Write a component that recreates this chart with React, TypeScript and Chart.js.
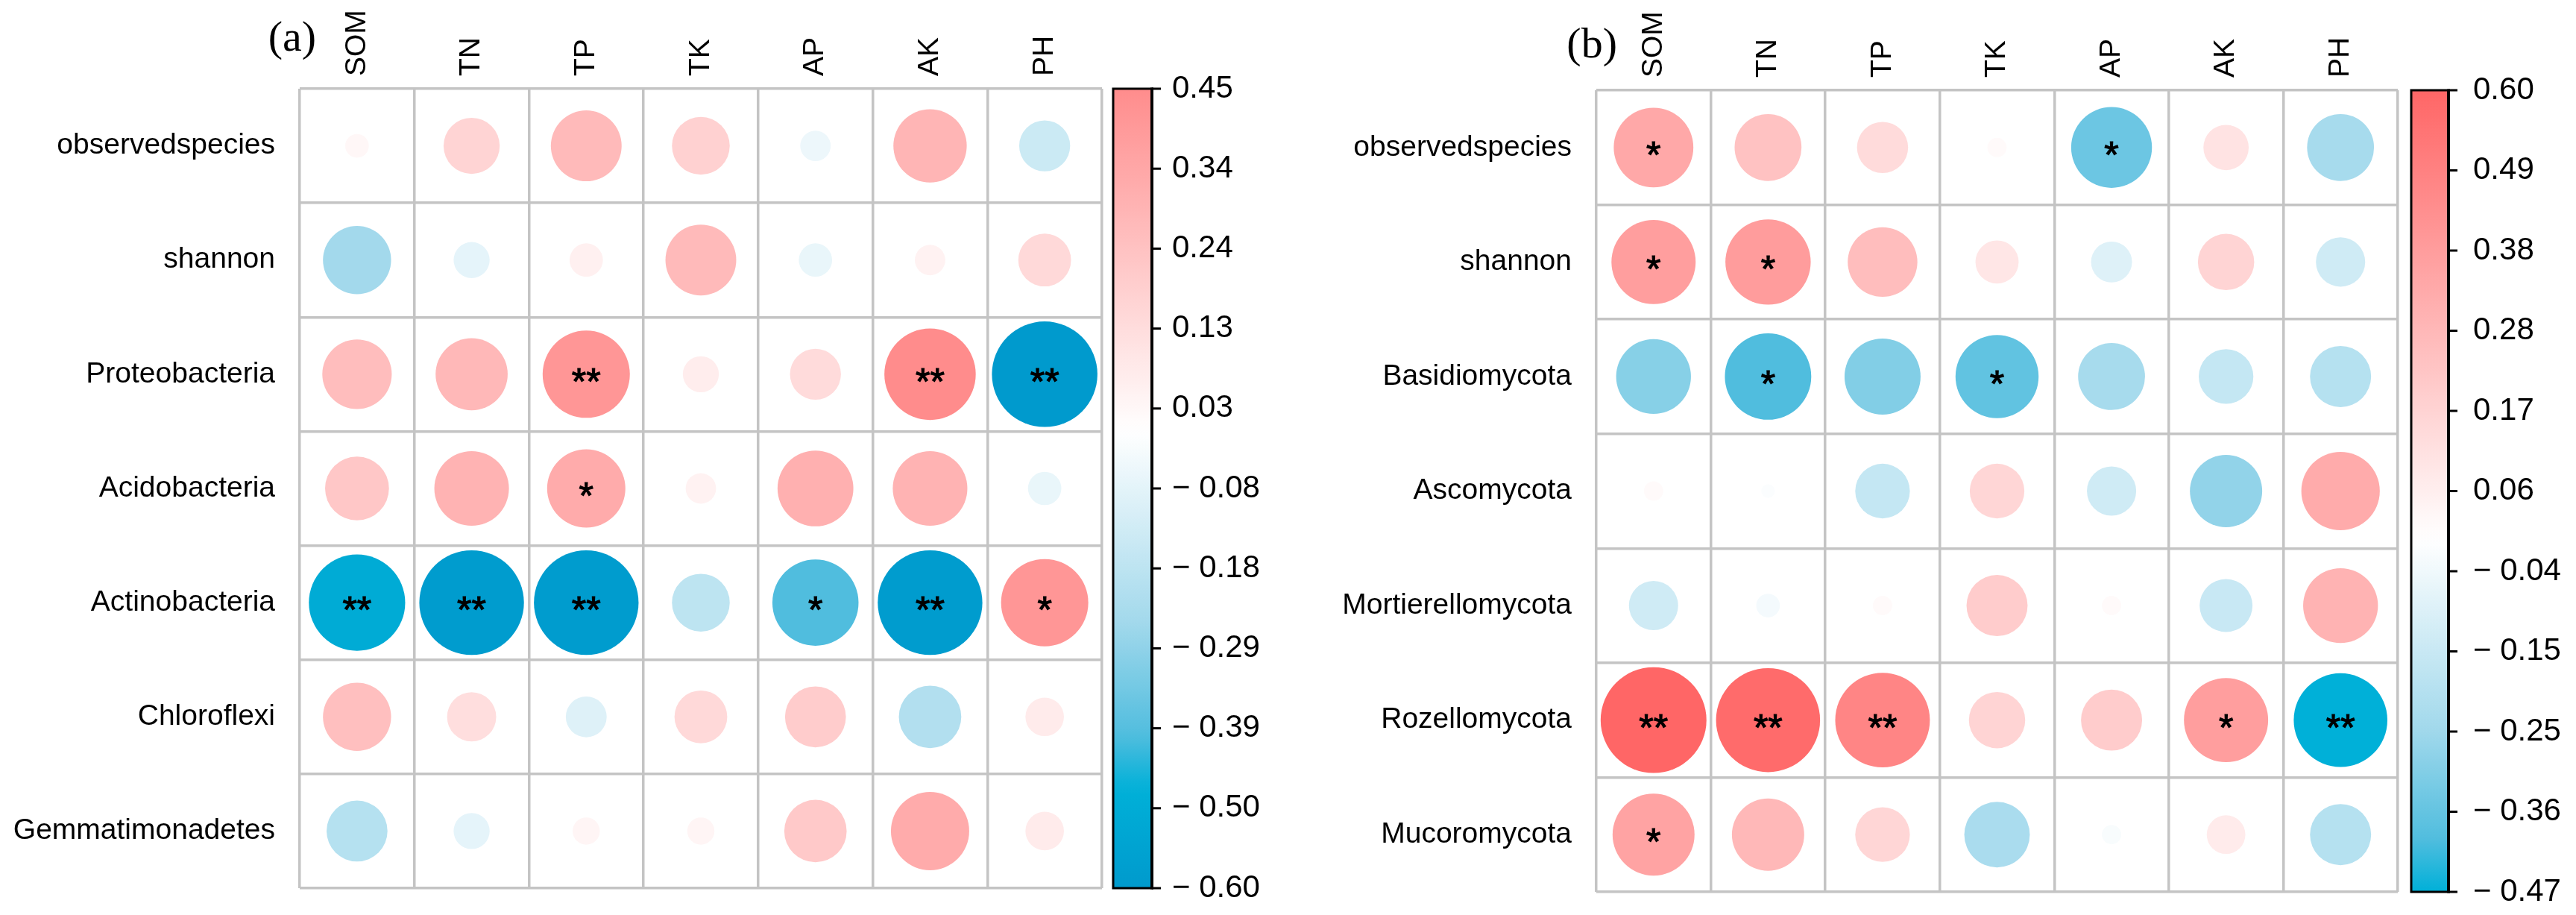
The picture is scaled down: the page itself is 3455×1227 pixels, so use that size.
import React, { useEffect, useRef } from 'react';
import { Chart, registerables } from 'chart.js';

Chart.register(...registerables);

// ---------------- data ----------------
const COLUMNS = ['SOM', 'TN', 'TP', 'TK', 'AP', 'AK', 'PH'];

const ROWS_A = ['observedspecies', 'shannon', 'Proteobacteria', 'Acidobacteria', 'Actinobacteria', 'Chloroflexi', 'Gemmatimonadetes'];
const VALUES_A = [
  [0.03, 0.17, 0.27, 0.18, -0.05, 0.29, -0.14],
  [-0.25, -0.07, 0.06, 0.27, -0.06, 0.05, 0.15],
  [0.26, 0.28, 0.41, 0.07, 0.14, 0.45, -0.6],
  [0.22, 0.3, 0.33, 0.05, 0.31, 0.3, -0.06],
  [-0.5, -0.59, -0.59, -0.18, -0.4, -0.59, 0.41],
  [0.25, 0.13, -0.09, 0.15, 0.2, -0.21, 0.08],
  [-0.2, -0.07, 0.04, 0.04, 0.21, 0.33, 0.08],
];
const STARS_A = [
  ['', '', '', '', '', '', ''],
  ['', '', '', '', '', '', ''],
  ['', '', '**', '', '', '**', '**'],
  ['', '', '*', '', '', '', ''],
  ['**', '**', '**', '', '*', '**', '*'],
  ['', '', '', '', '', '', ''],
  ['', '', '', '', '', '', ''],
];
const CB_A_MAX = 0.45;
const CB_A_MIN = -0.6;
const CB_A_LABELS = ['0.45', '0.34', '0.24', '0.13', '0.03', '\u2212 0.08', '\u2212 0.18', '\u2212 0.29', '\u2212 0.39', '\u2212 0.50', '\u2212 0.60'];

const ROWS_B = ['observedspecies', 'shannon', 'Basidiomycota', 'Ascomycota', 'Mortierellomycota', 'Rozellomycota', 'Mucoromycota'];
const VALUES_B = [
  [0.34, 0.24, 0.14, 0.02, -0.35, 0.11, -0.24],
  [0.38, 0.39, 0.26, 0.1, -0.09, 0.17, -0.13],
  [-0.3, -0.4, -0.31, -0.37, -0.24, -0.16, -0.2],
  [0.02, -0.01, -0.16, 0.16, -0.13, -0.28, 0.33],
  [-0.13, -0.03, 0.02, 0.2, 0.02, -0.15, 0.3],
  [0.6, 0.58, 0.48, 0.17, 0.2, 0.38, -0.47],
  [0.36, 0.28, 0.16, -0.23, -0.02, 0.08, -0.2],
];
const STARS_B = [
  ['*', '', '', '', '*', '', ''],
  ['*', '*', '', '', '', '', ''],
  ['', '*', '', '*', '', '', ''],
  ['', '', '', '', '', '', ''],
  ['', '', '', '', '', '', ''],
  ['**', '**', '**', '', '', '*', '**'],
  ['*', '', '', '', '', '', ''],
];
const CB_B_MAX = 0.6;
const CB_B_MIN = -0.47;
const CB_B_LABELS = ['0.60', '0.49', '0.38', '0.28', '0.17', '0.06', '\u2212 0.04', '\u2212 0.15', '\u2212 0.25', '\u2212 0.36', '\u2212 0.47'];

// ---------------- style ----------------
const SANS = "'Liberation Sans', Arial, Helvetica, sans-serif";
const SERIF = "'Liberation Serif', 'Times New Roman', serif";
const GRID = '#c4c4c4';
const SIZE_REF = 0.6; // |r| giving the largest circle
const MAX_RADIUS_FRAC = 0.462;
const LABEL_SIZE = 39;
const STAR_SIZE = 50;

type RGB = [number, number, number];
const POS_STOPS: [number, RGB][] = [
  [0, [255, 255, 255]],
  [1, [255, 0, 0]],
];
const NEG_STOPS: [number, RGB][] = [
  [0, [255, 255, 255]],
  [0.25, [163, 217, 236]],
  [0.4, [80, 189, 222]],
  [0.47, [0, 176, 216]],
  [0.6, [0, 154, 205]],
  [1, [0, 100, 160]],
];

function corrColor(v: number): string {
  const stops = v >= 0 ? POS_STOPS : NEG_STOPS;
  const a = Math.min(1, Math.abs(v));
  for (let i = 1; i < stops.length; i++) {
    if (a <= stops[i][0]) {
      const [p0, c0] = stops[i - 1];
      const [p1, c1] = stops[i];
      const t = (a - p0) / (p1 - p0);
      const c = c0.map((x, k) => Math.round(x + (c1[k] - x) * t));
      return `rgb(${c[0]},${c[1]},${c[2]})`;
    }
  }
  const c = stops[stops.length - 1][1];
  return `rgb(${c[0]},${c[1]},${c[2]})`;
}

interface PanelSpec {
  tag: string;
  rows: string[];
  values: number[][];
  stars: string[][];
  cbMin: number;
  cbMax: number;
  cbLabels: string[];
  layout: {
    canvasLeft: number;
    canvasWidth: number;
    left: number;
    top: number;
    right: number;
    bottom: number;
    cbGap: number;
    cbWidth: number;
    cbLabelPad: number;
    tagRight: number;
    tagDy: number;
  };
}

const PANELS: PanelSpec[] = [
  {
    tag: '(a)',
    rows: ROWS_A,
    values: VALUES_A,
    stars: STARS_A,
    cbMin: CB_A_MIN,
    cbMax: CB_A_MAX,
    cbLabels: CB_A_LABELS,
    layout: { canvasLeft: 0, canvasWidth: 1727, left: 402, top: 119, right: 249, bottom: 36, cbGap: 15, cbWidth: 52, cbLabelPad: 94, tagRight: 22, tagDy: -51 },
  },
  {
    tag: '(b)',
    rows: ROWS_B,
    values: VALUES_B,
    stars: STARS_B,
    cbMin: CB_B_MIN,
    cbMax: CB_B_MAX,
    cbLabels: CB_B_LABELS,
    layout: { canvasLeft: 1727, canvasWidth: 1728, left: 414, top: 121, right: 239, bottom: 31, cbGap: 18, cbWidth: 50, cbLabelPad: 101, tagRight: 28, tagDy: -44 },
  },
];

function zeroPadding(s: any) {
  s.paddingTop = 0;
  s.paddingBottom = 0;
  s.paddingLeft = 0;
  s.paddingRight = 0;
}

function makeConfig(p: PanelSpec): any {
  const L = p.layout;
  const data: any[] = [];
  p.rows.forEach((row, i) => {
    COLUMNS.forEach((col, j) => {
      data.push({ x: col, y: row, v: p.values[i][j], s: p.stars[i][j] });
    });
  });

  const radius = (ctx: any) => {
    const area = ctx.chart.chartArea;
    if (!area || !ctx.raw) return 0;
    const cell = Math.min(area.width / COLUMNS.length, area.height / p.rows.length);
    return cell * MAX_RADIUS_FRAC * Math.sqrt(Math.abs(ctx.raw.v) / SIZE_REF);
  };

  const nTicks = p.cbLabels.length;
  const tickValue = (i: number) => p.cbMax - (i * (p.cbMax - p.cbMin)) / (nTicks - 1);

  const colorbarPlugin = {
    id: 'colorbar',
    afterDraw(chart: any) {
      const ctx = chart.ctx;
      const cb = chart.scales.cb;
      const area = chart.chartArea;
      const x0 = area.right + L.cbGap;
      const w = L.cbWidth;
      const yTop = cb.getPixelForValue(p.cbMax);
      const yBot = cb.getPixelForValue(p.cbMin);
      const g = ctx.createLinearGradient(0, yBot, 0, yTop);
      const N = 60;
      for (let k = 0; k <= N; k++) {
        const v = p.cbMin + ((p.cbMax - p.cbMin) * k) / N;
        g.addColorStop(k / N, corrColor(v));
      }
      ctx.save();
      ctx.fillStyle = g;
      ctx.fillRect(x0, yTop, w, yBot - yTop);
      ctx.strokeStyle = '#000';
      ctx.lineWidth = 3;
      ctx.strokeRect(x0, yTop, w, yBot - yTop);
      ctx.lineWidth = 4;
      ctx.beginPath();
      ctx.moveTo(x0 + w, yTop - 1.5);
      ctx.lineTo(x0 + w, yBot + 1.5);
      ctx.stroke();
      ctx.lineWidth = 3;
      cb.ticks.forEach((t: any) => {
        const y = cb.getPixelForValue(t.value);
        ctx.beginPath();
        ctx.moveTo(x0 + w, y);
        ctx.lineTo(x0 + w + 12, y);
        ctx.stroke();
      });
      ctx.restore();
    },
  };

  const starsPlugin = {
    id: 'stars',
    afterDatasetsDraw(chart: any) {
      const ctx = chart.ctx;
      const meta = chart.getDatasetMeta(0);
      const ds = chart.data.datasets[0].data;
      ctx.save();
      ctx.fillStyle = '#000';
      ctx.strokeStyle = '#000';
      ctx.lineWidth = 1.2;
      ctx.font = `${STAR_SIZE}px ${SANS}`;
      ctx.textAlign = 'center';
      ctx.textBaseline = 'alphabetic';
      meta.data.forEach((el: any, i: number) => {
        const s = ds[i].s;
        if (s) {
          ctx.fillText(s, el.x, el.y + 27);
          ctx.strokeText(s, el.x, el.y + 27);
        }
      });
      ctx.restore();
    },
  };

  const tagPlugin = {
    id: 'tag',
    afterDraw(chart: any) {
      const ctx = chart.ctx;
      const area = chart.chartArea;
      ctx.save();
      ctx.fillStyle = '#000';
      ctx.font = `58px ${SERIF}`;
      ctx.textAlign = 'right';
      ctx.textBaseline = 'alphabetic';
      ctx.fillText(p.tag, area.left + L.tagRight, area.top + L.tagDy);
      ctx.restore();
    },
  };

  return {
    type: 'scatter',
    data: {
      datasets: [
        {
          data,
          pointRadius: radius,
          pointHoverRadius: radius,
          pointBackgroundColor: (ctx: any) => (ctx.raw ? corrColor(ctx.raw.v) : '#fff'),
          pointBorderWidth: 0,
          pointBorderColor: 'rgba(0,0,0,0)',
        },
      ],
    },
    options: {
      responsive: false,
      animation: false,
      devicePixelRatio: 1,
      events: [],
      layout: { padding: { left: 0, top: 0, right: 0, bottom: L.bottom } },
      plugins: {
        legend: { display: false },
        tooltip: { enabled: false },
        title: { display: false },
      },
      scales: {
        x: {
          type: 'category',
          labels: COLUMNS,
          position: 'top',
          offset: true,
          grid: { offset: true, color: GRID, lineWidth: 3.5, drawTicks: false },
          border: { display: false },
          ticks: {
            autoSkip: false,
            minRotation: 90,
            maxRotation: 90,
            padding: 17,
            labelOffset: LABEL_SIZE * 1.2,
            color: '#000',
            font: { family: SANS, size: LABEL_SIZE },
          },
          afterFit: (s: any) => {
            s.height = L.top;
            zeroPadding(s);
          },
        },
        y: {
          type: 'category',
          labels: p.rows,
          position: 'left',
          offset: true,
          grid: { offset: true, color: GRID, lineWidth: 3.5, drawTicks: false },
          border: { display: false },
          ticks: {
            autoSkip: false,
            padding: 33,
            color: '#000',
            font: { family: SANS, size: LABEL_SIZE },
          },
          afterFit: (s: any) => {
            s.width = L.left;
            zeroPadding(s);
          },
        },
        cb: {
          type: 'linear',
          position: 'right',
          min: p.cbMin,
          max: p.cbMax,
          grid: { display: false, drawOnChartArea: false, drawTicks: false },
          border: { display: false },
          afterBuildTicks: (s: any) => {
            s.ticks = p.cbLabels.map((_, i) => ({ value: tickValue(i) }));
          },
          ticks: {
            autoSkip: false,
            padding: L.cbLabelPad,
            color: '#000',
            font: { family: SANS, size: 42 },
            callback: (_v: any, idx: number) => p.cbLabels[idx],
          },
          afterFit: (s: any) => {
            s.width = L.right;
            zeroPadding(s);
          },
        },
      },
    },
    plugins: [colorbarPlugin, starsPlugin, tagPlugin],
  };
}

function Panel({ spec }: { spec: PanelSpec }) {
  const ref = useRef<HTMLCanvasElement>(null);
  useEffect(() => {
    if (!ref.current) return;
    const chart = new Chart(ref.current, makeConfig(spec));
    return () => chart.destroy();
  }, [spec]);
  const L = spec.layout;
  return (
    <canvas
      ref={ref}
      width={L.canvasWidth}
      height={1227}
      style={{ position: 'absolute', left: L.canvasLeft, top: 0, width: L.canvasWidth, height: 1227 }}
    />
  );
}

export default function App() {
  return (
    <div style={{ position: 'absolute', left: 0, top: 0, width: 3455, height: 1227, background: '#fff', overflow: 'hidden' }}>
      {PANELS.map((p) => (
        <Panel key={p.tag} spec={p} />
      ))}
    </div>
  );
}
